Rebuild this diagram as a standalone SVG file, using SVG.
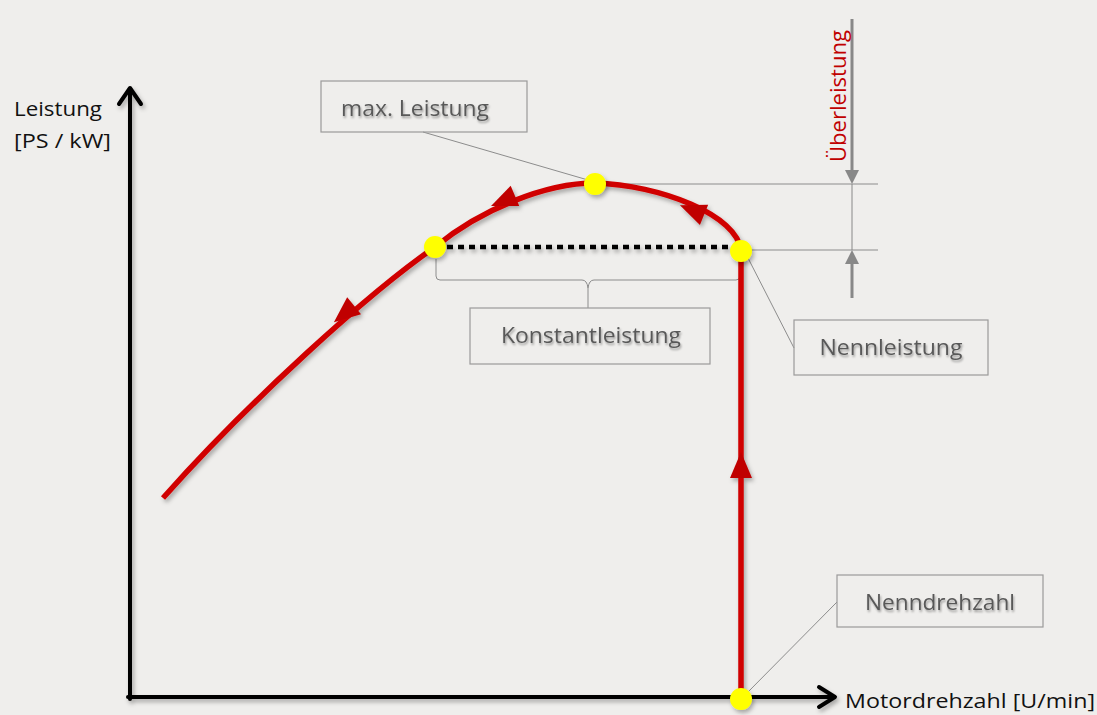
<svg xmlns="http://www.w3.org/2000/svg" width="1097" height="715" viewBox="0 0 1097 715">
<defs>
<filter id="sh" filterUnits="userSpaceOnUse" x="0" y="0" width="1097" height="715"><feDropShadow dx="2" dy="3" stdDeviation="2" flood-color="#000" flood-opacity="0.3"/></filter>
<filter id="tsh" filterUnits="userSpaceOnUse" x="0" y="0" width="1097" height="715"><feDropShadow dx="1" dy="2" stdDeviation="1" flood-color="#000" flood-opacity="0.35"/></filter>
<polygon id="rarr" points="-13,-11 13,0 -13,11" fill="#c00000"/>
<style>
.box{fill:none;stroke:#9a9a9a;stroke-width:1.2}
.lbl{font-family:"Open Sans","Liberation Sans",sans-serif;font-size:22px;fill:#595959;text-anchor:middle}
.ax{font-family:"Open Sans","Liberation Sans",sans-serif;font-size:20px;fill:#111}
.lead{stroke:#8c8c8c;stroke-width:1;fill:none}
.dot{fill:#ffff00}
</style>
</defs>
<rect width="1097" height="715" fill="#efeeec"/>

<g id="axes" stroke="#000" stroke-width="4" fill="none" stroke-linecap="round" stroke-linejoin="round" filter="url(#sh)">
<line x1="130" y1="699" x2="130" y2="89"/>
<polyline points="119,104 130,88 141,104"/>
<line x1="128" y1="697" x2="834" y2="697"/>
<polyline points="819,687 835,697 819,707"/>
</g>
<text class="ax" x="14" y="116" textLength="88" lengthAdjust="spacingAndGlyphs">Leistung</text>
<text class="ax" x="14" y="148" textLength="97" lengthAdjust="spacingAndGlyphs">[PS / kW]</text>
<text class="ax" x="845" y="708" textLength="250" lengthAdjust="spacingAndGlyphs">Motordrehzahl [U/min]</text>

<g id="connectors">
<line class="lead" x1="423" y1="132" x2="588" y2="180"/>
<line class="lead" x1="605" y1="184" x2="878" y2="184"/>
<line class="lead" x1="750" y1="250" x2="878" y2="250"/>
<line class="lead" x1="748" y1="258" x2="794" y2="348"/>
<line class="lead" x1="837" y1="602" x2="748" y2="692"/>
<path class="lead" d="M436,259 L436,276 Q436,280 440,280 L582,280 Q587,280 588,288 Q589,280 594,280 L736,280 Q740,280 740,276 L740,259 M588,288 L588,308"/>
<g id="dimension" stroke="#888" fill="#888">
<line x1="852" y1="19" x2="852" y2="172" stroke-width="3"/>
<polygon points="845,170 852,184 859,170" stroke="none"/>
<line x1="852" y1="184" x2="852" y2="250" stroke-width="1"/>
<line x1="852" y1="262" x2="852" y2="298" stroke-width="3"/>
<polygon points="845,264 852,250 859,264" stroke="none"/>
</g>
<line x1="447" y1="247" x2="728" y2="247" stroke="#000" stroke-width="4.5" stroke-dasharray="6,5" filter="url(#sh)"/>
</g>

<g id="curve" filter="url(#sh)">
<path d="M741,697 L741,251 C738,215 660,185 595,183 C545,183 480,210 435,247 C370,292 250,400 163,498" fill="none" stroke="#d00000" stroke-width="5.5"/>
<use href="#rarr" transform="translate(741,465) rotate(-90)"/>
<use href="#rarr" transform="translate(692,210) rotate(-158)"/>
<use href="#rarr" transform="translate(503,201) rotate(157)"/>
<use href="#rarr" transform="translate(344,314) rotate(141)"/>
</g>

<g id="points" filter="url(#sh)">
<circle class="dot" cx="435" cy="247" r="11"/>
<circle class="dot" cx="595" cy="184" r="11"/>
<circle class="dot" cx="741" cy="251" r="11"/>
<circle class="dot" cx="741" cy="699" r="11"/>
</g>

<g id="n-maxleistung">
<rect class="box" x="321" y="81" width="206" height="51"/>
<text class="lbl" x="415" y="116" filter="url(#tsh)" textLength="148" lengthAdjust="spacingAndGlyphs">max. Leistung</text>
</g>
<g id="n-konstantleistung">
<rect class="box" x="470" y="308" width="240" height="56"/>
<text class="lbl" x="591" y="343" filter="url(#tsh)" textLength="180" lengthAdjust="spacingAndGlyphs">Konstantleistung</text>
</g>
<g id="n-nennleistung">
<rect class="box" x="794" y="320" width="194" height="55"/>
<text class="lbl" x="891" y="355" filter="url(#tsh)" textLength="143" lengthAdjust="spacingAndGlyphs">Nennleistung</text>
</g>
<g id="n-nenndrehzahl">
<rect class="box" x="837" y="575" width="206" height="52"/>
<text class="lbl" x="940" y="610" filter="url(#tsh)" textLength="150" lengthAdjust="spacingAndGlyphs">Nenndrehzahl</text>
</g>
<g id="n-ueberleistung">
<text x="0" y="0" transform="translate(846,96) rotate(-90)" font-family="'Open Sans','Liberation Sans',sans-serif" font-size="22" fill="#c00000" text-anchor="middle" textLength="132" lengthAdjust="spacingAndGlyphs">Überleistung</text>
</g>
</svg>
